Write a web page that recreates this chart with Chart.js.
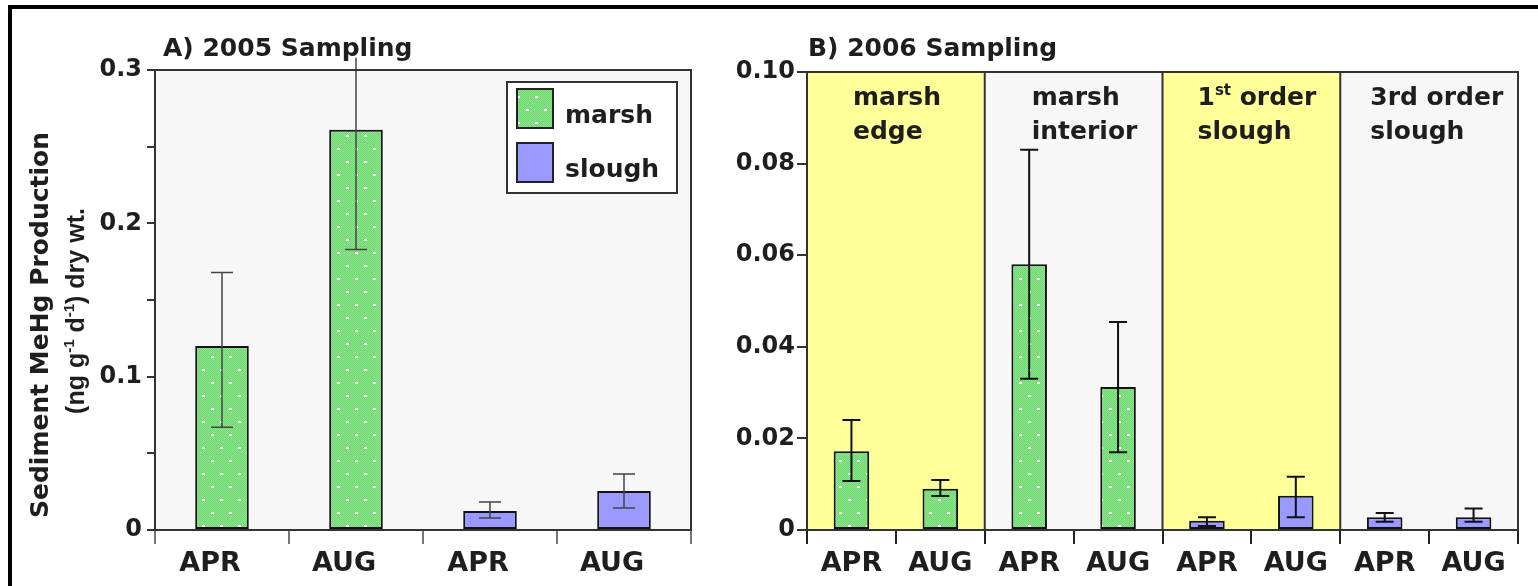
<!DOCTYPE html>
<html>
<head>
<meta charset="utf-8">
<script src="https://cdn.jsdelivr.net/npm/chart.js@4.4.1/dist/chart.umd.min.js"></script>
<style>
  html, body { margin: 0; padding: 0; background: #fff; width: 1538px; height: 586px; overflow: hidden; }
  #frame { position: absolute; left: 8px; top: 5px; width: 1600px; height: 700px; border-top: 4px solid #000; border-left: 4px solid #000; }
  #chartA { position: absolute; left: 0; top: 0; }
  #chartB { position: absolute; left: 700px; top: 0; }
</style>
</head>
<body>
<div id="frame"></div>
<canvas id="chartA" width="700" height="586"></canvas>
<canvas id="chartB" width="838" height="586"></canvas>
<script>
// A) 2005 sampling
const months2005 = ['APR', 'AUG', 'APR', 'AUG'];
const marsh2005 = [0.120, 0.261, null, null];
const marsh2005Lo = [0.067, 0.183, null, null];
const marsh2005Hi = [0.168, 0.308, null, null];
const slough2005 = [null, null, 0.0124, 0.0254];
const slough2005Lo = [null, null, 0.0078, 0.0143];
const slough2005Hi = [null, null, 0.0183, 0.0365];
const labelled2005 = [0, 0.1, 0.2, 0.3];

// B) 2006 sampling
const months2006 = ['APR', 'AUG', 'APR', 'AUG', 'APR', 'AUG', 'APR', 'AUG'];
const marsh2006 = [0.0172, 0.0090, 0.0580, 0.0312, null, null, null, null];
const marsh2006Lo = [0.0107, 0.0074, 0.0330, 0.0170, null, null, null, null];
const marsh2006Hi = [0.0240, 0.0109, 0.0830, 0.0454, null, null, null, null];
const slough2006 = [null, null, null, null, 0.0020, 0.0075, 0.0028, 0.0028];
const slough2006Lo = [null, null, null, null, 0.0009, 0.0028, 0.0018, 0.0018];
const slough2006Hi = [null, null, null, null, 0.0028, 0.0116, 0.0037, 0.0047];
const sites2006 = [['marsh', 'edge'], ['marsh', 'interior'], ['1<sup>st</sup> order', 'slough'], ['3rd order', 'slough']];
const siteShaded = [true, false, true, false];

const FONT = "'DejaVu Sans', Verdana, sans-serif";
const NARROW = "'Liberation Sans', Arial, sans-serif";
const INK = '#1e1e1e';
const FRAME = '#333';
const PLOT_BG = '#F7F7F7';
const YELLOW = '#FFFF99';
const SLOUGH = '#9999FF';

// green fill with fine dither and staggered white dots
function marshPattern() {
  const c = document.createElement('canvas');
  c.width = 18; c.height = 26;
  const g = c.getContext('2d');
  g.fillStyle = '#8AE68A';
  g.fillRect(0, 0, 18, 26);
  g.fillStyle = '#72D672';
  for (let y = 0; y < 26; y++)
    for (let x = y % 2; x < 18; x += 2) g.fillRect(x, y, 1, 1);
  g.fillStyle = '#ffffff';
  g.fillRect(4, 5, 3, 2);
  g.fillRect(13, 18, 3, 2);
  return g.createPattern(c, 'repeat');
}
const MARSH = marshPattern();

// text with <sup>..</sup> runs
function richText(ctx, text, x, y, size, align, family) {
  const fam = family || FONT;
  const parts = text.split(/<sup>|<\/sup>/);
  const runs = parts.map((t, i) => ({ t, sup: i % 2 === 1 }));
  const font = s => `bold ${s}px ${fam}`;
  let total = 0;
  runs.forEach(r => { ctx.font = font(r.sup ? size * 0.6 : size); r.w = ctx.measureText(r.t).width; total += r.w; });
  let cx = align === 'center' ? x - total / 2 : x;
  ctx.textAlign = 'left';
  ctx.textBaseline = 'alphabetic';
  runs.forEach(r => {
    ctx.font = font(r.sup ? size * 0.6 : size);
    ctx.fillText(r.t, cx, r.sup ? y - size * 0.4 : y);
    cx += r.w;
  });
}

const plotBackground = {
  id: 'plotBackground',
  beforeDraw(chart, args, opts) {
    const { ctx, chartArea: a } = chart;
    const x = chart.scales.x;
    ctx.save();
    ctx.fillStyle = PLOT_BG;
    ctx.fillRect(a.left, a.top, a.right - a.left, a.bottom - a.top);
    (opts.shaded || []).forEach((on, s) => {
      if (!on) return;
      const x0 = x.getPixelForValue(2 * s - 0.5), x1 = x.getPixelForValue(2 * s + 1.5);
      ctx.fillStyle = YELLOW;
      ctx.fillRect(x0, a.top, x1 - x0, a.bottom - a.top);
    });
    ctx.restore();
  }
};

const errorBars = {
  id: 'errorBars',
  afterDatasetsDraw(chart, args, opts) {
    const { ctx } = chart;
    const y = chart.scales.y;
    ctx.save();
    ctx.strokeStyle = opts.color;
    ctx.lineWidth = opts.width;
    chart.data.datasets.forEach((ds, di) => {
      const meta = chart.getDatasetMeta(di);
      ds.data.forEach((v, i) => {
        if (v == null) return;
        const x = meta.data[i].x;
        const lo = y.getPixelForValue(ds.errLow[i]);
        const hi = y.getPixelForValue(ds.errHigh[i]);
        ctx.beginPath();
        ctx.moveTo(x, lo); ctx.lineTo(x, hi);
        ctx.moveTo(x - opts.cap, lo); ctx.lineTo(x + opts.cap, lo);
        // whisker running past the axis top gets no cap
        if (ds.errHigh[i] <= y.max) { ctx.moveTo(x - opts.cap, hi); ctx.lineTo(x + opts.cap, hi); }
        ctx.stroke();
      });
    });
    ctx.restore();
  }
};

const panelDecor = {
  id: 'panelDecor',
  afterDraw(chart, args, opts) {
    const { ctx, chartArea: a } = chart;
    const x = chart.scales.x;
    ctx.save();
    // top and right frame
    ctx.strokeStyle = FRAME;
    ctx.lineWidth = 2;
    ctx.beginPath();
    ctx.moveTo(a.left, a.top); ctx.lineTo(a.right, a.top); ctx.lineTo(a.right, a.bottom);
    ctx.stroke();
    ctx.fillStyle = INK;
    richText(ctx, opts.title, opts.titleX, 56, 25, 'left');

    if (opts.sites) {
      opts.sites.forEach((lines, s) => {
        const left = x.getPixelForValue(2 * s - 0.5);
        if (s > 0) {
          ctx.beginPath();
          ctx.moveTo(left, a.top); ctx.lineTo(left, a.bottom);
          ctx.stroke();
        }
        const tx = left + opts.siteIndent[s];
        richText(ctx, lines[0], tx, 105, 25, 'left');
        richText(ctx, lines[1], tx, 139, 25, 'left');
      });
    }

    if (opts.yTitle) {
      ctx.save();
      ctx.translate(39, 325);
      ctx.rotate(-Math.PI / 2);
      richText(ctx, opts.yTitle[0], 0, 9, 25, 'center');
      ctx.restore();
      ctx.save();
      ctx.translate(75, 311);
      ctx.rotate(-Math.PI / 2);
      richText(ctx, opts.yTitle[1], 0, 9, 25, 'center', NARROW);
      ctx.restore();
    }

    if (opts.legend) {
      ctx.fillStyle = '#fff';
      ctx.fillRect(507, 82, 170, 111);
      ctx.strokeRect(507, 82, 170, 111);
      chart.data.datasets.forEach((ds, i) => {
        const top = 89 + i * 54;
        ctx.fillStyle = ds.backgroundColor;
        ctx.fillRect(517, top, 36, 39);
        ctx.strokeStyle = '#222';
        ctx.strokeRect(517, top, 36, 39);
        ctx.fillStyle = INK;
        richText(ctx, ds.label, 565, top + 34, 25, 'left');
      });
    }
    ctx.restore();
  }
};

function barSet(label, data, lo, hi, color) {
  return {
    label, data, errLow: lo, errHigh: hi,
    backgroundColor: color, borderColor: '#111', borderWidth: 2, borderSkipped: false,
    grouped: false, barPercentage: 0.4, categoryPercentage: 1
  };
}

function xAxis(tickColor, shift) {
  return {
    afterFit: s => { s.height = 56; },
    ticks: { padding: 4, labelOffset: shift, color: INK, maxRotation: 0, autoSkip: false, font: { family: FONT, size: 27, weight: 'bold' } },
    grid: { offset: true, drawOnChartArea: false, tickLength: 14, color: tickColor, lineWidth: 2 },
    border: { color: FRAME, width: 2 }
  };
}

new Chart(document.getElementById('chartA'), {
  type: 'bar',
  data: {
    labels: months2005,
    datasets: [
      barSet('marsh', marsh2005, marsh2005Lo, marsh2005Hi, MARSH),
      barSet('slough', slough2005, slough2005Lo, slough2005Hi, SLOUGH)
    ]
  },
  options: {
    responsive: false, animation: false,
    layout: { padding: { top: 70, right: 9, bottom: 0, left: 0 } },
    scales: {
      x: xAxis('#777', -12),
      y: {
        min: 0, max: 0.3,
        afterFit: s => { s.width = 155; },
        ticks: {
          stepSize: 0.05, padding: 5, color: INK, font: { family: FONT, size: 24, weight: 'bold' },
          callback: v => labelled2005.some(t => Math.abs(t - v) < 1e-9) ? (v === 0 ? '0' : v.toFixed(1)) : ''
        },
        grid: { drawOnChartArea: false, tickLength: 8, color: FRAME, lineWidth: 2 },
        border: { color: FRAME, width: 2 }
      }
    },
    plugins: {
      legend: { display: false }, tooltip: { enabled: false },
      errorBars: { color: '#444', width: 1.5, cap: 11 },
      panelDecor: {
        title: 'A) 2005 Sampling', titleX: 163, legend: true,
        yTitle: ['Sediment MeHg Production', '(ng g<sup>-1</sup> d<sup>-1</sup>) dry wt.']
      }
    }
  },
  plugins: [plotBackground, errorBars, panelDecor]
});

new Chart(document.getElementById('chartB'), {
  type: 'bar',
  data: {
    labels: months2006,
    datasets: [
      barSet('marsh', marsh2006, marsh2006Lo, marsh2006Hi, MARSH),
      barSet('slough', slough2006, slough2006Lo, slough2006Hi, SLOUGH)
    ]
  },
  options: {
    responsive: false, animation: false,
    layout: { padding: { top: 72, right: 20, bottom: 0, left: 0 } },
    scales: {
      x: xAxis('#222', 0),
      y: {
        min: 0, max: 0.10,
        afterFit: s => { s.width = 107; },
        ticks: {
          stepSize: 0.02, padding: 2, color: INK, font: { family: FONT, size: 24, weight: 'bold' },
          callback: v => v === 0 ? '0' : v.toFixed(2)
        },
        grid: { drawOnChartArea: false, tickLength: 10, color: FRAME, lineWidth: 2 },
        border: { color: FRAME, width: 2 }
      }
    },
    plugins: {
      legend: { display: false }, tooltip: { enabled: false },
      plotBackground: { shaded: siteShaded },
      errorBars: { color: '#111', width: 2, cap: 9 },
      panelDecor: {
        title: 'B) 2006 Sampling', titleX: 108,
        sites: sites2006, siteIndent: [46, 47, 35, 30]
      }
    }
  },
  plugins: [plotBackground, errorBars, panelDecor]
});
</script>
</body>
</html>
